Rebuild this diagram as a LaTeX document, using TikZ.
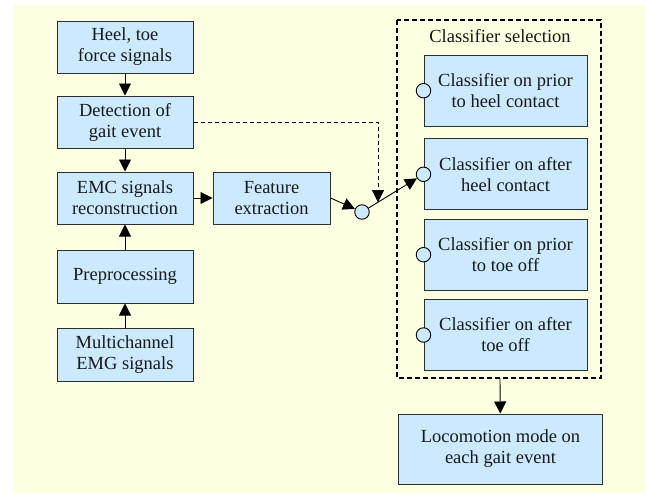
\documentclass[tikz,border=0pt]{standalone}
\usepackage{fontspec}
\setmainfont{Liberation Serif}
\newfontfamily\labelfont{Liberation Serif}
\usetikzlibrary{arrows.meta,calc}
\definecolor{bgyellow}{RGB}{255,255,226}
\definecolor{boxblue}{RGB}{204,234,255}
\definecolor{edgegray}{RGB}{45,45,45}
\begin{document}
\begin{tikzpicture}[x=1pt,y=-1pt,
  every node/.style={font=\labelfont\fontsize{18.5}{21}\selectfont,text=black!90},
  blockbox/.style={draw=edgegray,line width=1pt,fill=boxblue,align=center,inner sep=0pt},
  leftbox/.style={blockbox,minimum width=136pt,minimum height=52pt},
  clsbox/.style={blockbox,minimum width=163pt,minimum height=71pt},
  port/.style={circle,draw=black,line width=0.9pt,fill=boxblue,inner sep=0pt,minimum size=14.5pt},
  flow/.style={draw=black,line width=0.9pt,-{Triangle[length=12pt,width=12pt]}},
  dashflow/.style={flow,dash pattern=on 4pt off 3pt}]
  % background
  \useasboundingbox (0,0) rectangle (646,493);
  \fill[bgyellow] (13,5) rectangle (646,493);

  % left column
  \node[leftbox] (heel) at (125,47) {Heel, toe\\force signals};
  \node[leftbox] (det) at (125,122) {Detection of\\gait event};
  \node[leftbox] (emc) at (125,198) {EMC signals\\reconstruction};
  \node[leftbox,minimum height=53pt] (pre) at (125,276.5) {Preprocessing};
  \node[leftbox,minimum height=53pt] (emg) at (125,354.5) {Multichannel\\EMG signals};
  \node[blockbox,minimum width=117pt,minimum height=52pt] (feat) at (271.5,198) {Feature\\extraction};

  % switch point
  \node[port] (sw) at (362,212) {};

  % classifier selection group
  \draw[line width=1.8pt,dash pattern=on 5pt off 3pt] (397,20) rectangle (601,378);
  \coordinate (grpbot) at (500,378);
  \node (grplabel) at (500,36) {Classifier selection};
  \node[clsbox] (k1) at (505.5,90.7) {Classifier on prior\\to heel contact};
  \node[clsbox] (k2) at (505.5,174.3) {Classifier on after\\heel contact};
  \node[clsbox] (k3) at (505.5,254.7) {Classifier on prior\\to toe off};
  \node[clsbox] (k4) at (505.5,335) {Classifier on after\\toe off};
  \foreach \i in {1,...,4} \node[port] (p\i) at (k\i.west) {};

  \node[blockbox,minimum width=204pt,minimum height=70pt] (loco) at (500.5,449) {Locomotion mode on\\each gait event};

  % connectors
  \draw[flow] (heel) -- (det);
  \draw[flow] (det) -- (emc);
  \draw[flow] (pre) -- (emc);
  \draw[flow] (emg) -- (pre);
  \draw[flow] (emc) -- (feat);
  \draw[flow] (feat.east) -- (sw);
  \draw[flow] (sw) -- (p2);
  \coordinate (hit) at ($(sw)!0.26!(p2)$);
  \draw[dashflow] (det.east) -| (hit);
  \draw[flow] (grpbot) -- (loco);
\end{tikzpicture}
\end{document}
